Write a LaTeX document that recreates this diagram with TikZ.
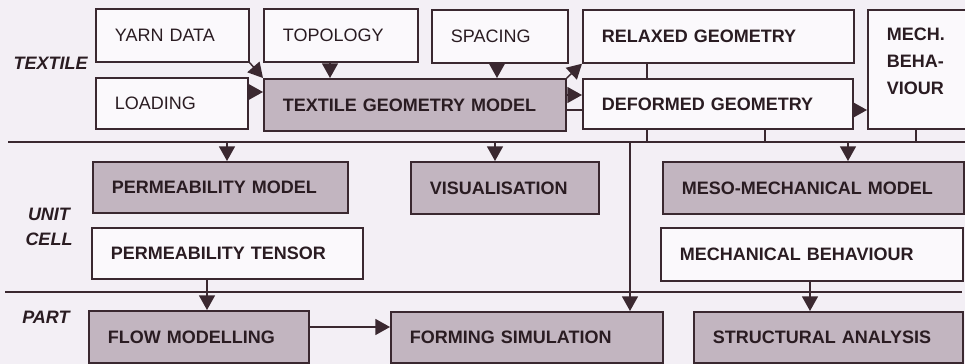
\documentclass[tikz,border=0pt]{standalone}
\usepackage{fontspec}
\setmainfont{Liberation Sans}
\usetikzlibrary{arrows.meta}
\definecolor{bg}{HTML}{F3EFF5}
\definecolor{wfill}{HTML}{FBF9FC}
\definecolor{gfill}{HTML}{C2B5C0}
\definecolor{edge}{HTML}{3A2830}
\definecolor{ink}{HTML}{2A1C22}
\newcommand\mybox[7]{%
 \pgfmathsetmacro\bxw{(#4-#2)*0.75}%
 \pgfmathsetmacro\bxh{(#5-#3)*0.75}%
 \pgfmathsetmacro\bxt{\bxw-28.5}%
 \node[#6, minimum width=\bxw pt, minimum height=\bxh pt, text width=\bxt pt, anchor=north west] (#1) at (#2,#3) {#7};}
\begin{document}
\begin{tikzpicture}[x=0.75pt,y=-0.75pt,
  box/.style={draw=edge, line width=1.3pt, inner xsep=14.25pt, inner ysep=1pt, align=left,
    font=\fontsize{13.5}{20.25}\selectfont\bfseries, text=ink},
  wbox/.style={box, fill=wfill},
  gbox/.style={box, fill=gfill},
  reg/.style={font=\fontsize{13.5}{16}\selectfont},
  arr/.style={draw=edge, line width=1.1pt, -{Triangle[length=11pt,width=12pt]}},
  ln/.style={draw=edge, line width=1.1pt},
  lab/.style={font=\fontsize{13.5}{18.75}\selectfont\bfseries\itshape, text=ink, inner sep=0pt}]
\useasboundingbox (0,0) rectangle (965,364);
\clip (0,0) rectangle (965,364);
\fill[bg] (0,0) rectangle (965,364);
% helper coordinates
\coordinate (y92) at (0,92);
\coordinate (y95) at (0,95);
\coordinate (y110) at (0,110);
\coordinate (y327) at (0,327);
\coordinate (x330) at (330,0);
\coordinate (x497) at (497,0);
\coordinate (x647) at (647,0);
\coordinate (x765) at (765,0);
\coordinate (x916) at (916,0);
\coordinate (x227) at (227,0);
\coordinate (x495) at (495,0);
\coordinate (x848) at (848,0);
\coordinate (x630) at (630,0);
\coordinate (x207) at (207,0);
\coordinate (x810) at (810,0);
\coordinate (d1l) at (8,142);
\coordinate (d1r) at (970,142);
\coordinate (d2l) at (5,292);
\coordinate (d2r) at (962,292);
% boxes
\mybox{yarn}{95}{8}{248}{61}{wbox,reg}{YARN DATA}
\mybox{topo}{263}{8}{417}{61}{wbox,reg}{TOPOLOGY}
\mybox{spacing}{431}{9}{567}{62}{wbox,reg}{SPACING}
\mybox{relaxed}{582}{9}{853}{62}{wbox}{RELAXED GEOMETRY}
\mybox{mech}{867}{9}{990}{128}{wbox}{MECH.\\BEHA-\\VIOUR\rule[-12pt]{0pt}{12pt}}
\mybox{loading}{95}{77}{247}{128}{wbox,reg}{LOADING}
\mybox{tgm}{263}{78}{565}{130}{gbox}{TEXTILE GEOMETRY MODEL}
\mybox{deformed}{582}{78}{852}{128}{wbox}{DEFORMED GEOMETRY}
\mybox{permmodel}{92}{161}{347}{212}{gbox}{PERMEABILITY MODEL}
\mybox{visual}{410}{161}{598}{213}{gbox}{VISUALISATION}
\mybox{meso}{662}{161}{963}{213}{gbox}{MESO-MECHANICAL MODEL}
\mybox{permtensor}{91}{227}{362}{278}{wbox}{PERMEABILITY TENSOR}
\mybox{mechbeh}{660}{227}{962}{280}{wbox}{MECHANICAL BEHAVIOUR}
\mybox{flow}{88}{310}{308}{362}{gbox}{FLOW MODELLING}
\mybox{forming}{390}{311}{662}{362}{gbox}{FORMING SIMULATION}
\mybox{struct}{693}{311}{962}{362}{gbox}{STRUCTURAL ANALYSIS}
% labels
\node[lab, anchor=east] (ltex) at (88,63) {TEXTILE};
\node[lab, align=center] (lunit) at (49,227) {UNIT\\CELL};
\node[lab, anchor=west] (lpart) at (22,317) {PART};
% dividers
\draw[ln] (d1l) -- (d1r);
\draw[ln] (d2l) -- (d2r);
% textile level connectors
\draw[arr] (yarn.south east) -- (tgm.north west);
\draw[arr] (loading.east |- y92) -- (tgm.west |- y92);
\draw[arr] (topo.south -| x330) -- (tgm.north -| x330);
\draw[arr] (spacing.south -| x497) -- (tgm.north -| x497);
\draw[arr] (tgm.north east) -- (relaxed.south west);
\draw[arr] (tgm.east |- y95) -- (deformed.west |- y95);
\draw[ln] (tgm.east |- y110) -- (deformed.west |- y110);
\draw[ln] (relaxed.south -| x647) -- (deformed.north -| x647);
\draw[arr] (deformed.east |- y110) -- (mech.west |- y110);
\draw[ln] (deformed.south -| x647) -- (d1l -| x647);
\draw[ln] (deformed.south -| x765) -- (d1l -| x765);
\draw[ln] (mech.south -| x916) -- (d1l -| x916);
% unit cell level
\draw[arr] (d1l -| x227) -- (permmodel.north -| x227);
\draw[arr] (d1l -| x495) -- (visual.north -| x495);
\draw[arr] (d1l -| x848) -- (meso.north -| x848);
\draw[arr] (d1l -| x630) -- (forming.north -| x630);
% part level
\draw[arr] (permtensor.south -| x207) -- (flow.north -| x207);
\draw[arr] (flow.east |- y327) -- (forming.west |- y327);
\draw[arr] (mechbeh.south -| x810) -- (struct.north -| x810);
\end{tikzpicture}
\end{document}
